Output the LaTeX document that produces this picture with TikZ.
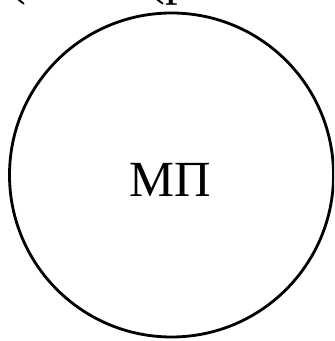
\documentclass[tikz,border=0pt]{standalone}
\usepackage{fontspec}
\setmainfont{Liberation Serif}
\usepackage{tikz}
\usetikzlibrary{positioning}

\begin{document}
\begin{tikzpicture}
  \useasboundingbox (0,0) rectangle (3.34,3.41);
  \clip (0,0) rectangle (3.34,3.41);
  % cut-off line above the stamp
  \node[font=\fontsize{14.4}{17}\selectfont, anchor=base, inner sep=0pt] (capl) at (0.175,3.46) {(};
  \node[font=\fontsize{14.4}{17}\selectfont, anchor=base west, inner sep=0pt] (capr) at (1.48,3.46) {(р};
  % stamp place
  \draw[line width=0.8pt] (1.715,1.66) circle (1.62);
  \node[font=\fontsize{14.4}{17}\selectfont] (mp) at (1.70,1.61) {МП};
\end{tikzpicture}
\end{document}
